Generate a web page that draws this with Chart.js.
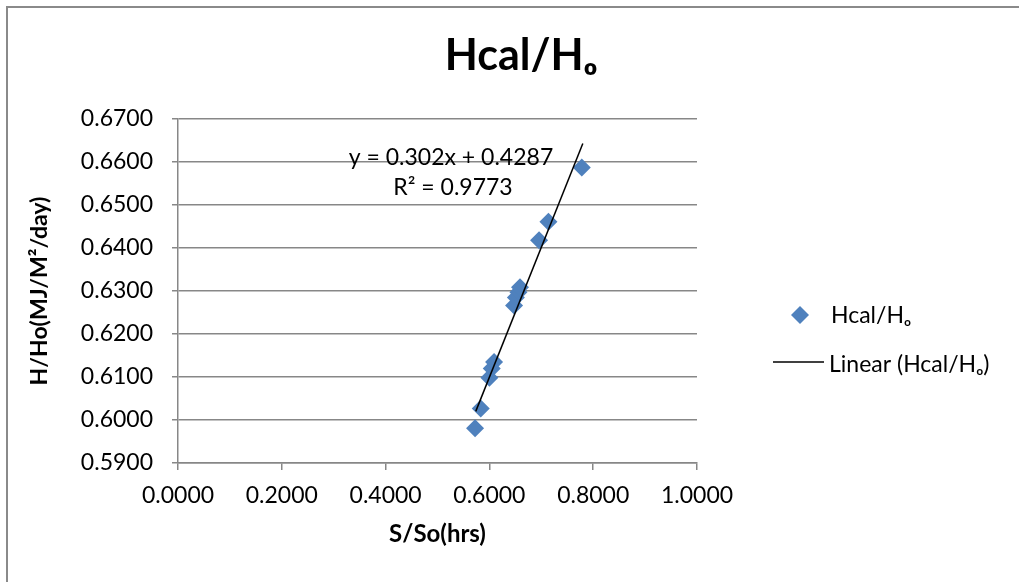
<!DOCTYPE html>
<html lang="en">
  <head>
    <meta charset="UTF-8" />
    <script src="https://cdn.jsdelivr.net/npm/chart.js@4.4.1/dist/chart.umd.min.js"></script>
    <title>Hcal/Ho</title>
    <style>
      body { margin: 0; background: #fff; }
    </style>
  </head>
  <body>
    <canvas id="myChart" width="1019" height="582"></canvas>
    <script>
      // values
      const sValues = [0.5724, 0.5833, 0.6000, 0.6045, 0.6090, 0.6475, 0.6510, 0.6560, 0.6590, 0.6957, 0.7137, 0.7780];
      const hValues = [0.5981, 0.6027, 0.6098, 0.6120, 0.6135, 0.6266, 0.6285, 0.6297, 0.6309, 0.6418, 0.6461, 0.6587];
      // trend line end points
      const trendX = [0.5737, 0.7800];
      const trendY = [0.6020, 0.6643];
      const xTickValues = [0, 0.2, 0.4, 0.6, 0.8, 1.0];
      const yTickValues = [0.59, 0.60, 0.61, 0.62, 0.63, 0.64, 0.65, 0.66, 0.67];

      const titleText = "Hcal/H\u2092";
      const seriesName = "Hcal/H\u2092";
      const trendName = "Linear (Hcal/H\u2092)";
      const equation = ["y = 0.302x + 0.4287", "R\u00b2 = 0.9773"];

      const FONT = "Lato, 'DejaVu Sans', sans-serif";
      const gridGray = "#878787";
      const blue = "#4F81BD";

      const decorations = {
        id: "decorations",
        beforeDraw(chart) {
          const ctx = chart.ctx;
          ctx.save();
          ctx.fillStyle = "#fff";
          ctx.fillRect(0, 0, chart.width, chart.height);
          // outer border (only top and left visible)
          ctx.strokeStyle = "#8a8a8a";
          ctx.lineWidth = 2;
          ctx.strokeRect(7, 7, chart.width + 20, chart.height + 20);
          ctx.restore();
        },
        afterDraw(chart) {
          const ctx = chart.ctx;
          ctx.save();
          ctx.fillStyle = "#000";
          // title
          ctx.font = "bold 43px " + FONT;
          ctx.textAlign = "center";
          ctx.textBaseline = "alphabetic";
          ctx.fillText(titleText, 521, 70);

          // trend equation
          ctx.font = "23px " + FONT;
          ctx.fillText(equation[0], 451, 165);
          ctx.fillText(equation[1], 453, 195);

          // legend
          ctx.textAlign = "left";
          ctx.fillStyle = blue;
          ctx.beginPath();
          ctx.moveTo(800 - 9, 315);
          ctx.lineTo(800, 315 - 9);
          ctx.lineTo(800 + 9, 315);
          ctx.lineTo(800, 315 + 9);
          ctx.closePath();
          ctx.fill();
          ctx.fillStyle = "#000";
          ctx.fillText(seriesName, 831, 323);

          ctx.strokeStyle = "#000";
          ctx.lineWidth = 1.5;
          ctx.beginPath();
          ctx.moveTo(773, 362);
          ctx.lineTo(824, 362);
          ctx.stroke();
          ctx.fillText(trendName, 829, 372);
          ctx.restore();
        },
      };

      const ctx = document.getElementById("myChart");

      new Chart(ctx, {
        type: "scatter",
        data: {
          datasets: [
            {
              label: trendName,
              type: "line",
              data: trendX.map((x, i) => ({ x: x, y: trendY[i] })),
              borderColor: "#000",
              borderWidth: 1.5,
              pointRadius: 0,
              fill: false,
              order: 0,
            },
            {
              label: seriesName,
              data: sValues.map((x, i) => ({ x: x, y: hValues[i] })),
              pointStyle: "rectRot",
              pointRadius: 9,
              backgroundColor: blue,
              borderColor: blue,
              borderWidth: 0,
              order: 1,
            },
          ],
        },
        options: {
          responsive: false,
          animation: false,
          devicePixelRatio: 1,
          layout: { padding: { left: 0, top: 119, right: 322, bottom: 0 } },
          plugins: {
            legend: { display: false },
            tooltip: { enabled: false },
            title: { display: false },
          },
          scales: {
            x: {
              type: "linear",
              position: "bottom",
              min: 0,
              max: 1,
              afterBuildTicks: (s) => { s.ticks = xTickValues.map((v) => ({ value: v })); },
              afterFit: (s) => { s.height = 119; },
              grid: { drawOnChartArea: false, drawTicks: true, tickLength: 7, color: gridGray, lineWidth: 1.5 },
              border: { color: gridGray, width: 1.5 },
              ticks: {
                color: "#000",
                font: { family: FONT, size: 23 },
                padding: 12,
                maxRotation: 0,
                autoSkip: false,
                callback: (v) => Number(v).toFixed(4),
              },
              title: {
                display: true,
                text: "S/So(hrs)",
                color: "#000",
                font: { family: FONT, size: 24, weight: "bold" },
                padding: { top: 0, bottom: 33 },
              },
            },
            y: {
              type: "linear",
              min: 0.59,
              max: 0.67,
              afterBuildTicks: (s) => { s.ticks = yTickValues.map((v) => ({ value: v })); },
              afterFit: (s) => { s.width = 178; },
              grid: { color: gridGray, lineWidth: 1.5, tickLength: 6 },
              border: { color: gridGray, width: 1.5 },
              ticks: {
                color: "#000",
                font: { family: FONT, size: 23 },
                padding: 19,
                autoSkip: false,
                callback: (v) => Number(v).toFixed(4),
              },
              title: {
                display: true,
                text: "H/Ho(MJ/M\u00b2/day)",
                color: "#000",
                font: { family: FONT, size: 23, weight: "bold" },
                padding: { top: 26, bottom: 0 },
              },
            },
          },
        },
        plugins: [decorations],
      });
    </script>
  </body>
</html>
